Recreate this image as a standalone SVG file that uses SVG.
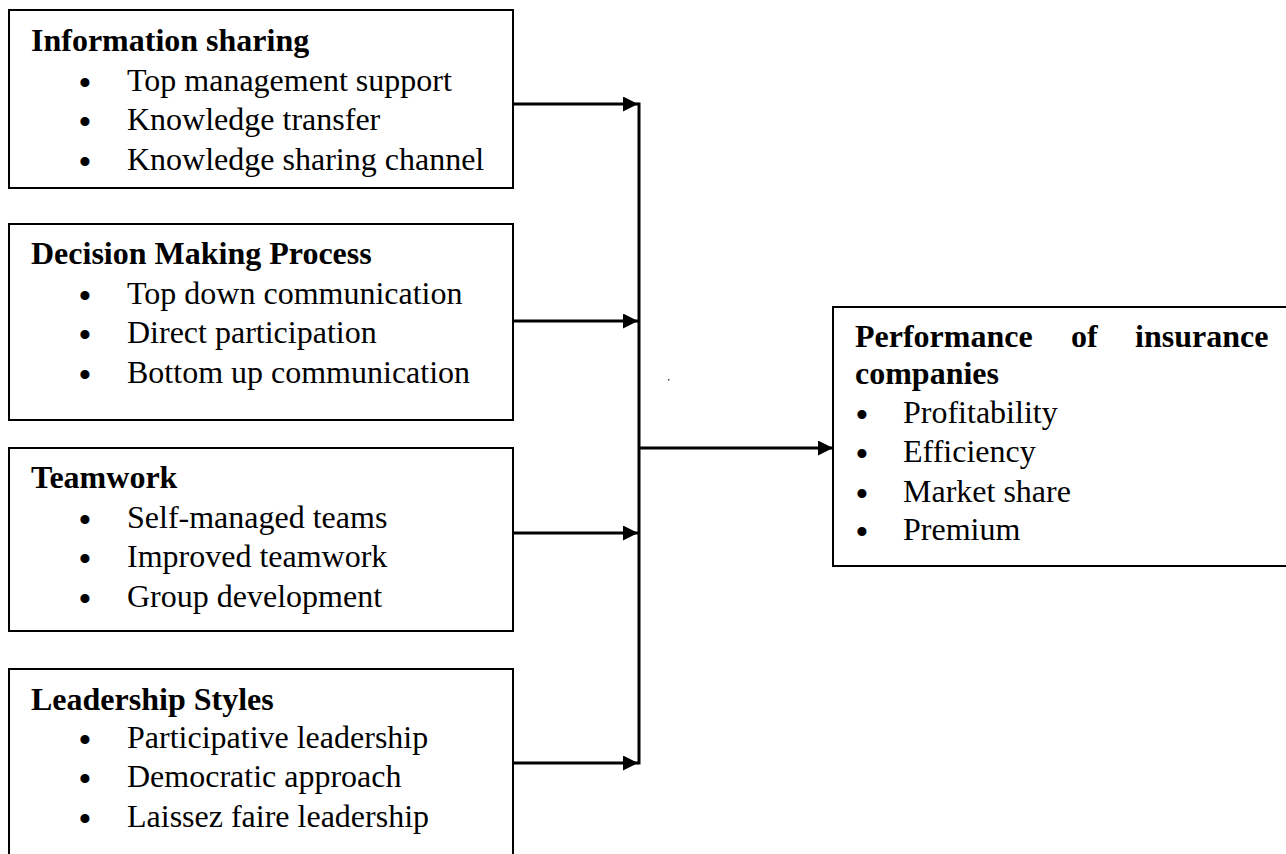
<svg xmlns="http://www.w3.org/2000/svg" width="1286" height="854" viewBox="0 0 1286 854">
<style>
.box{fill:#fff;stroke:#000;stroke-width:2}
.t{font-family:"Liberation Serif","Times New Roman",serif;font-size:32px;fill:#000}
.b{font-weight:bold}
.bul{font-family:"Liberation Serif","Times New Roman",serif;font-size:38px;fill:#000;text-anchor:middle}
.c{stroke:#000;stroke-width:3;fill:none}
</style>
<defs>
<marker id="ah" markerWidth="15" markerHeight="15" refX="15" refY="7.5" orient="auto" markerUnits="userSpaceOnUse">
<path d="M0,0 L15,7.5 L0,15 Z" fill="#000"/>
</marker>
</defs>
<rect width="1286" height="854" fill="#fff"/>
<g id="connectors">
<line class="c" x1="514" y1="104" x2="638" y2="104" marker-end="url(#ah)"/>
<line class="c" x1="514" y1="321" x2="638" y2="321" marker-end="url(#ah)"/>
<line class="c" x1="514" y1="533" x2="638" y2="533" marker-end="url(#ah)"/>
<line class="c" x1="514" y1="763" x2="638" y2="763" marker-end="url(#ah)"/>
<line class="c" x1="639" y1="102.5" x2="639" y2="764.5"/>
<line class="c" x1="639" y1="448" x2="833" y2="448" marker-end="url(#ah)"/>
<rect x="668" y="379" width="1.5" height="1.5" fill="#444"/>
</g>
<g id="info">
<rect class="box" x="9" y="10" width="504" height="178"/>
<text class="t b" x="31" y="51">Information sharing</text>
<text class="bul" x="85" y="96">•</text><text class="t" x="127" y="91">Top management support</text>
<text class="bul" x="85" y="135">•</text><text class="t" x="127" y="130">Knowledge transfer</text>
<text class="bul" x="85" y="175">•</text><text class="t" x="127" y="170">Knowledge sharing channel</text>
</g>
<g id="decision">
<rect class="box" x="9" y="224" width="504" height="196"/>
<text class="t b" x="31" y="264">Decision Making Process</text>
<text class="bul" x="85" y="309">•</text><text class="t" x="127" y="304">Top down communication</text>
<text class="bul" x="85" y="348">•</text><text class="t" x="127" y="343">Direct participation</text>
<text class="bul" x="85" y="388">•</text><text class="t" x="127" y="383">Bottom up communication</text>
</g>
<g id="teamwork">
<rect class="box" x="9" y="448" width="504" height="183"/>
<text class="t b" x="31" y="488">Teamwork</text>
<text class="bul" x="85" y="533">•</text><text class="t" x="127" y="528">Self-managed teams</text>
<text class="bul" x="85" y="572">•</text><text class="t" x="127" y="567">Improved teamwork</text>
<text class="bul" x="85" y="612">•</text><text class="t" x="127" y="607">Group development</text>
</g>
<g id="leadership">
<rect class="box" x="9" y="669" width="504" height="210"/>
<text class="t b" x="31" y="710">Leadership Styles</text>
<text class="bul" x="85" y="753">•</text><text class="t" x="127" y="748">Participative leadership</text>
<text class="bul" x="85" y="792">•</text><text class="t" x="127" y="787">Democratic approach</text>
<text class="bul" x="85" y="832">•</text><text class="t" x="127" y="827">Laissez faire leadership</text>
</g>
<g id="performance">
<rect class="box" x="833" y="307" width="470" height="259"/>
<text class="t b" x="855" y="347">Performance</text>
<text class="t b" x="1071" y="347">of</text>
<text class="t b" x="1135" y="347">insurance</text>
<text class="t b" x="855" y="384">companies</text>
<text class="bul" x="862" y="428">•</text><text class="t" x="903" y="423">Profitability</text>
<text class="bul" x="862" y="467">•</text><text class="t" x="903" y="462">Efficiency</text>
<text class="bul" x="862" y="507">•</text><text class="t" x="903" y="502">Market share</text>
<text class="bul" x="862" y="545">•</text><text class="t" x="903" y="540">Premium</text>
</g>
</svg>
